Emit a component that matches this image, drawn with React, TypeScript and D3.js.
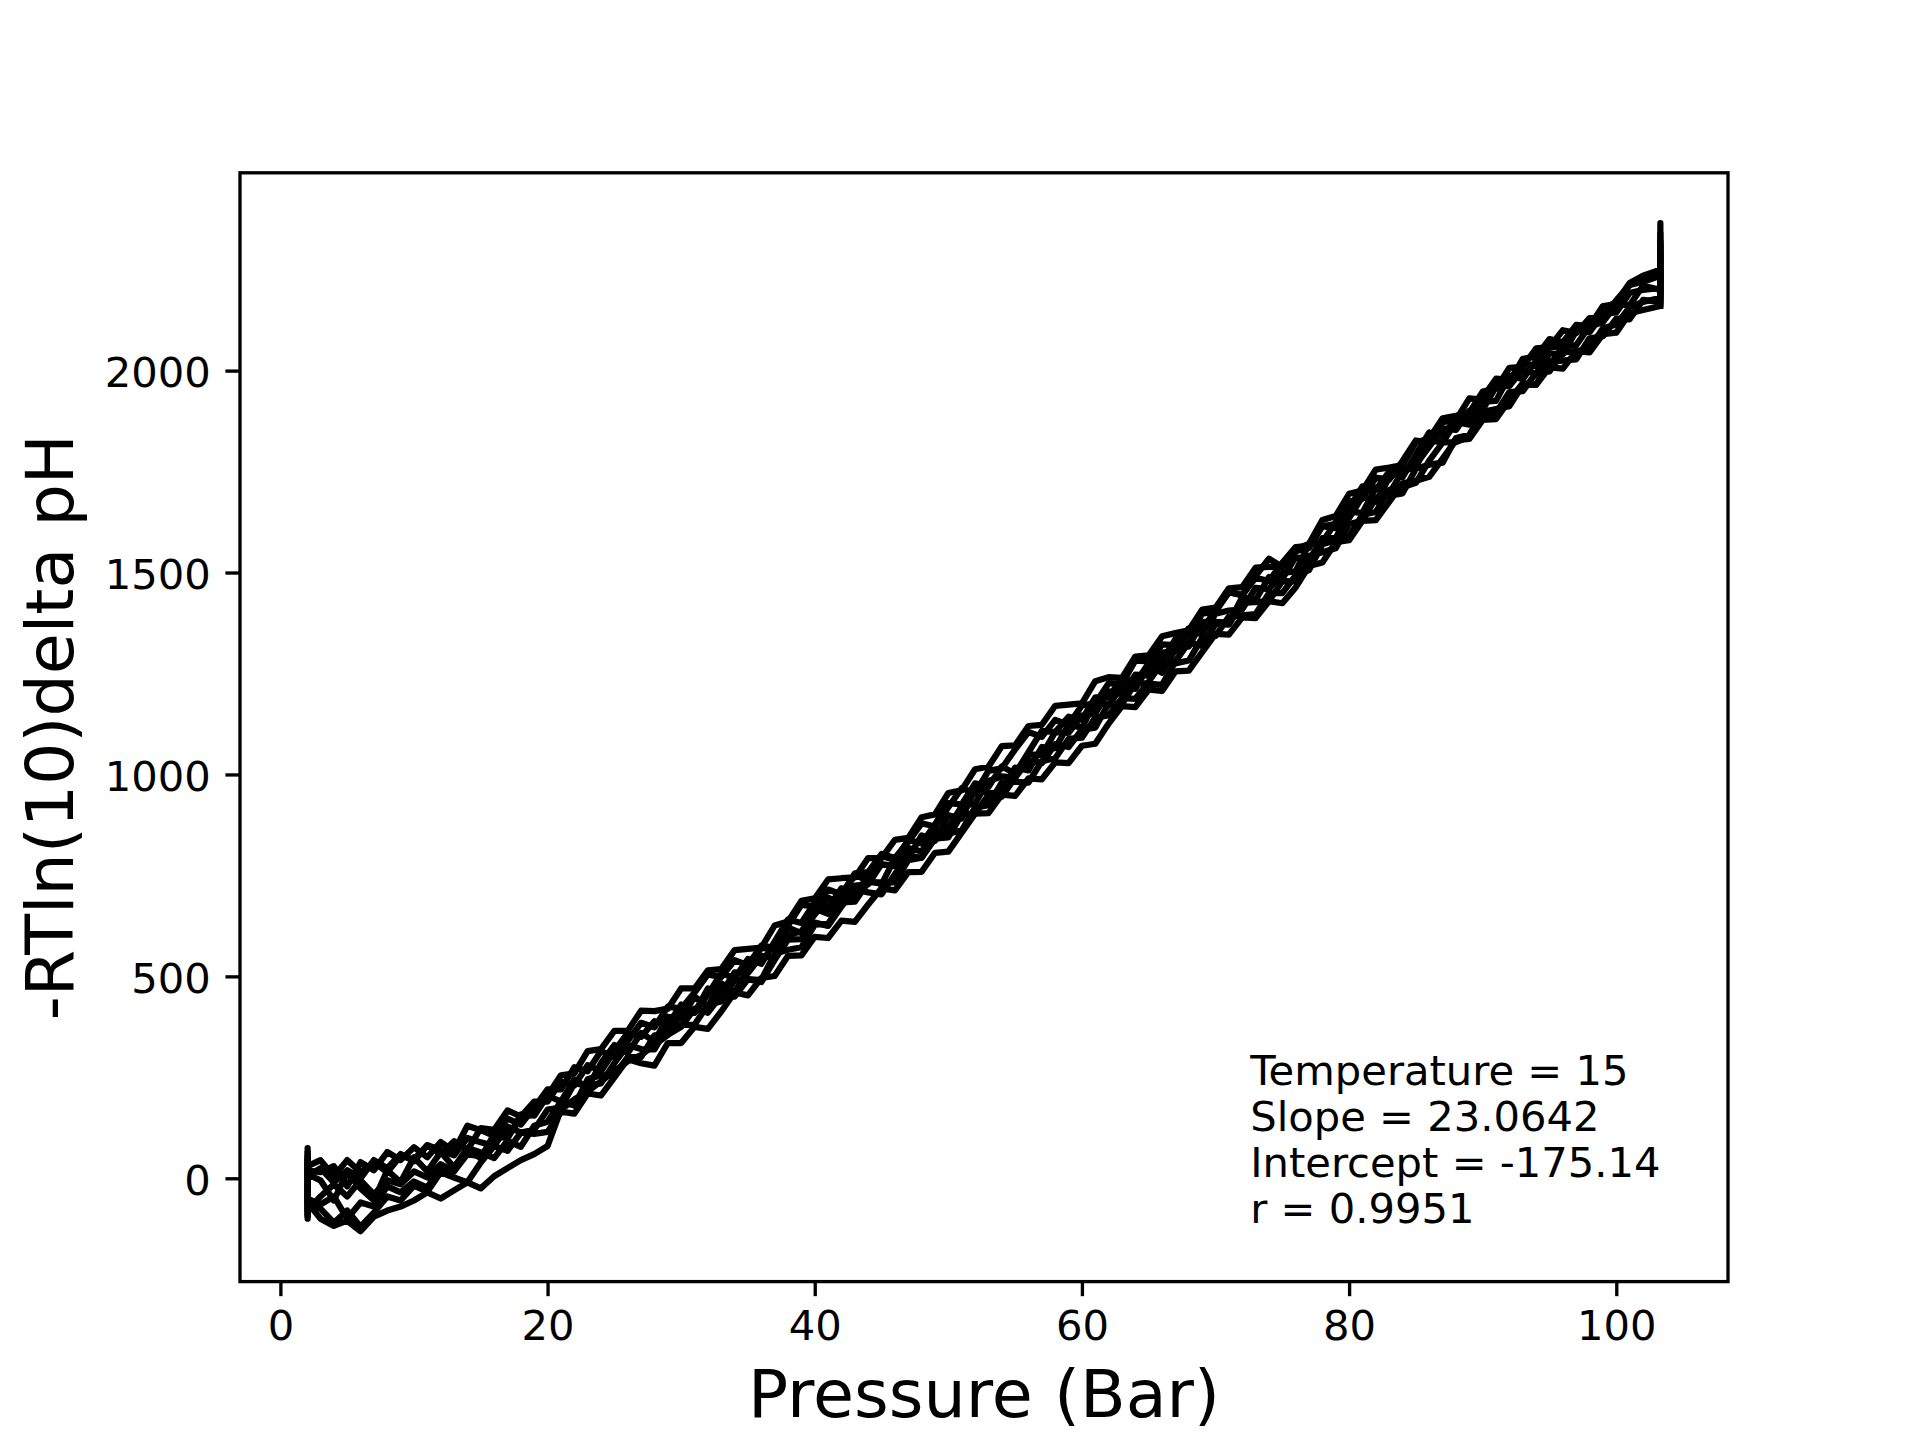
import React, { useEffect, useRef } from "react";
import * as d3 from "d3";

// pressure grid (Bar), shared by all runs: holds at start and end
const pressure = [
  2.04, 2.04, 2.04,
  3, 4, 5, 6, 7, 8, 9,
  10, 11, 12, 13, 14, 15, 16, 17, 18, 19,
  20, 21, 22, 23, 24, 25, 26, 27, 28, 29,
  30, 31, 32, 33, 34, 35, 36, 37, 38, 39,
  40, 41, 42, 43, 44, 45, 46, 47, 48, 49,
  50, 51, 52, 53, 54, 55, 56, 57, 58, 59,
  60, 61, 62, 63, 64, 65, 66, 67, 68, 69,
  70, 71, 72, 73, 74, 75, 76, 77, 78, 79,
  80, 81, 82, 83, 84, 85, 86, 87, 88, 89,
  90, 91, 92, 93, 94, 95, 96, 97, 98, 99,
  100, 101, 102,
  103.3, 103.3, 103.3,
];

// -RT ln(10) delta pH, one array per run
const runA = [
  0, 75, 30,
  45, 5, 45, 15, 40, 15, 55,
  47, 82, 60, 92, 70, 124, 120, 168, 153, 190,
  190, 240, 230, 280, 265, 315, 360, 350, 389, 380,
  430, 410, 455, 508, 495, 543, 531, 586, 641, 632,
  683, 670, 718, 695, 753, 798, 788, 838, 829, 876,
  929, 926, 978, 969, 1020, 1002, 1055, 1108, 1105, 1143,
  1136, 1191, 1191, 1239, 1227, 1275, 1322, 1320, 1362, 1358,
  1408, 1451, 1444, 1487, 1479, 1524, 1563, 1566, 1615, 1610,
  1660, 1713, 1705, 1750, 1736, 1792, 1847, 1837, 1883, 1881,
  1933, 1980, 1977, 2019, 2010, 2058, 2100, 2093, 2130, 2130,
  2174, 2212, 2230,
  2240, 2365, 2270,
];
const runB = [
  -90, -30, -70,
  -75, -110, -80, -120, -85, -45, -55,
  -18, -33, 15, 2, -10, 39, 80, 68, 113, 120,
  170, 175, 235, 230, 235, 285, 330, 320, 319, 375,
  380, 380, 430, 438, 490, 493, 491, 556, 566, 572,
  628, 630, 683, 685, 733, 733, 733, 788, 794, 846,
  854, 861, 918, 924, 980, 982, 980, 1033, 1040, 1088,
  1091, 1141, 1146, 1189, 1187, 1230, 1277, 1275, 1282, 1338,
  1343, 1391, 1394, 1397, 1449, 1449, 1493, 1506, 1570, 1580,
  1590, 1643, 1650, 1705, 1711, 1722, 1777, 1822, 1823, 1836,
  1888, 1895, 1947, 1949, 1995, 1998, 2045, 2048, 2055, 2105,
  2114, 2157, 2170,
  2180, 2230, 2160,
];
const runC = [
  40, -50, 10,
  -5, -55, 15, -25, -55, 20, -10,
  52, 17, 65, 27, 75, 49, 110, 98, 158, 155,
  205, 190, 245, 225, 285, 330, 310, 360, 339, 400,
  395, 450, 425, 483, 460, 518, 571, 566, 621, 607,
  668, 655, 703, 750, 738, 728, 793, 793, 849, 836,
  899, 891, 963, 954, 955, 1017, 1010, 1068, 1065, 1123,
  1116, 1181, 1171, 1219, 1212, 1270, 1252, 1310, 1317, 1378,
  1378, 1376, 1439, 1432, 1489, 1484, 1538, 1531, 1585, 1585,
  1650, 1648, 1710, 1695, 1751, 1762, 1827, 1822, 1873, 1866,
  1923, 1925, 1987, 1979, 2025, 2013, 2060, 2063, 2110, 2120,
  2164, 2162, 2210,
  2200, 2320, 2185,
];
const runD = [
  -40, -100, -60,
  -100, -118, -105, -131, -95, -80, -70,
  -55, -35, -50, -30, -10, -25, 5, 25, 45, 60,
  80, 170, 195, 215, 240, 265, 290, 305, 330, 355,
  375, 420, 410, 453, 450, 493, 486, 541, 591, 592,
  633, 625, 673, 715, 708, 703, 753, 798, 794, 841,
  844, 901, 903, 949, 945, 992, 1035, 1028, 1075, 1068,
  1111, 1116, 1176, 1174, 1227, 1225, 1222, 1280, 1327, 1318,
  1373, 1371, 1424, 1427, 1429, 1479, 1478, 1541, 1550, 1560,
  1620, 1628, 1685, 1690, 1696, 1757, 1767, 1772, 1833, 1841,
  1898, 1905, 1912, 1964, 1965, 2023, 2025, 2028, 2080, 2085,
  2129, 2127, 2175,
  2170, 2210, 2240,
];
const runE = [
  60, -20, 20,
  15, 30, -20, 40, 20, 65, 45,
  77, 52, 90, 67, 130, 119, 105, 148, 133, 175,
  220, 220, 275, 265, 315, 300, 340, 385, 374, 425,
  420, 460, 505, 498, 540, 528, 576, 571, 626, 677,
  673, 715, 703, 755, 758, 803, 793, 833, 879, 871,
  919, 966, 953, 1009, 1015, 1062, 1105, 1093, 1135, 1123,
  1171, 1176, 1226, 1224, 1282, 1280, 1282, 1335, 1342, 1398,
  1403, 1451, 1444, 1492, 1534, 1514, 1553, 1561, 1615, 1620,
  1675, 1683, 1735, 1730, 1776, 1827, 1822, 1872, 1878, 1931,
  1928, 1975, 1972, 2029, 2035, 2078, 2070, 2113, 2110, 2155,
  2169, 2217, 2235,
  2250, 2340, 2225,
];
const runF = [
  -20, 45, -80,
  -45, -15, -45, -5, -40, -5, -15,
  17, 2, 35, 17, 75, 64, 50, 93, 78, 130,
  140, 190, 180, 245, 255, 255, 300, 300, 354, 355,
  410, 410, 470, 458, 510, 508, 551, 546, 601, 612,
  653, 695, 678, 725, 728, 778, 773, 818, 809, 861,
  869, 921, 928, 984, 995, 992, 1050, 1048, 1105, 1103,
  1146, 1151, 1206, 1199, 1247, 1245, 1302, 1305, 1352, 1348,
  1398, 1406, 1409, 1462, 1459, 1499, 1503, 1571, 1575, 1625,
  1635, 1688, 1675, 1735, 1756, 1767, 1812, 1857, 1853, 1901,
  1903, 1960, 1962, 2004, 1990, 2043, 2040, 2098, 2095, 2140,
  2144, 2192, 2200,
  2205, 2290, 2195,
];
const runG = [
  -85, 20, -50,
  -65, -45, -100, -60, -70, -20, -35,
  -8, -23, 30, 17, 60, 54, 100, 103, 148, 160,
  205, 255, 260, 315, 320, 365, 365, 415, 414, 420,
  470, 470, 515, 518, 565, 568, 571, 626, 636, 687,
  693, 740, 743, 745, 793, 793, 838, 843, 894, 901,
  954, 961, 1013, 1019, 1070, 1072, 1120, 1123, 1170, 1173,
  1176, 1231, 1241, 1239, 1292, 1295, 1342, 1350, 1357, 1408,
  1413, 1461, 1464, 1512, 1514, 1514, 1558, 1571, 1630, 1640,
  1695, 1703, 1755, 1760, 1766, 1822, 1832, 1882, 1888, 1896,
  1948, 1955, 2007, 2009, 2055, 2058, 2060, 2108, 2110, 2160,
  2164, 2212, 2220,
  2235, 2310, 2255,
];
const runH = [
  50, -60, 5,
  25, -10, 20, 0, 45, 25, 60,
  42, 82, 70, 57, 100, 89, 80, 128, 113, 110,
  115, 165, 160, 210, 205, 250, 295, 285, 279, 335,
  335, 375, 370, 413, 460, 453, 496, 501, 551, 552,
  598, 595, 638, 635, 678, 718, 713, 758, 759, 806,
  809, 856, 903, 904, 950, 947, 990, 988, 1030, 1028,
  1071, 1076, 1126, 1169, 1167, 1210, 1207, 1255, 1257, 1303,
  1348, 1346, 1389, 1387, 1429, 1424, 1463, 1516, 1525, 1575,
  1580, 1628, 1630, 1675, 1721, 1727, 1737, 1782, 1828, 1831,
  1878, 1880, 1927, 1969, 1965, 2008, 2005, 2048, 2045, 2090,
  2094, 2142, 2150,
  2160, 2250, 2175,
];

const runs = [runA, runB, runC, runD, runE, runF, runG, runH];

const xTicks = [0, 20, 40, 60, 80, 100];
const yTicks = [0, 500, 1000, 1500, 2000];

const fitLines = [
  "Temperature = 15",
  "Slope = 23.0642",
  "Intercept = -175.14",
  "r = 0.9951",
];

const W = 1920;
const H = 1440;
const FONT = "DejaVu Sans, Liberation Sans, sans-serif";

const App: React.FC = () => {
  const svgRef = useRef<SVGSVGElement>(null);

  useEffect(() => {
    if (!svgRef.current) return;

    // matplotlib default subplot box for a 6.4x4.8in figure at 300 dpi
    const margin = { top: 172.8, right: 192, bottom: 158.4, left: 240 };
    const innerWidth = W - margin.left - margin.right;
    const innerHeight = H - margin.top - margin.bottom;

    const allY = runs.flat();
    const [x0, x1] = d3.extent(pressure) as [number, number];
    const [y0, y1] = d3.extent(allY) as [number, number];
    const xPad = (x1 - x0) * 0.05;
    const yPad = (y1 - y0) * 0.05;

    const xScale = d3
      .scaleLinear()
      .domain([x0 - xPad, x1 + xPad])
      .range([0, innerWidth]);

    const yScale = d3
      .scaleLinear()
      .domain([y0 - yPad, y1 + yPad])
      .range([innerHeight, 0]);

    const svg = d3.select(svgRef.current);
    svg.selectAll("*").remove();

    svg.append("rect").attr("width", W).attr("height", H).attr("fill", "#fff");

    const g = svg
      .append("g")
      .attr("transform", `translate(${margin.left},${margin.top})`);

    const clipId = "plot-clip";
    g.append("clipPath")
      .attr("id", clipId)
      .append("rect")
      .attr("width", innerWidth)
      .attr("height", innerHeight);

    // runs
    const lineGenerator = d3
      .line<number>()
      .x((_, i) => xScale(pressure[i]))
      .y(d => yScale(d));

    g.append("g")
      .attr("clip-path", `url(#${clipId})`)
      .selectAll("path")
      .data(runs)
      .join("path")
      .attr("fill", "none")
      .attr("stroke", "#000")
      .attr("stroke-width", 6.25)
      .attr("stroke-linejoin", "round")
      .attr("stroke-linecap", "square")
      .attr("d", d => lineGenerator(d));

    const tickLen = 14.58;
    const tickFont = 41.67;

    // X axis
    const xAxis = g
      .append("g")
      .attr("transform", `translate(0,${innerHeight})`)
      .call(
        d3
          .axisBottom(xScale)
          .tickValues(xTicks)
          .tickSize(tickLen)
          .tickPadding(tickLen)
          .tickFormat(d3.format("d"))
      );
    xAxis.select(".domain").remove();
    xAxis.selectAll("line").attr("stroke", "#000").attr("stroke-width", 3.33);
    xAxis
      .selectAll("text")
      .attr("fill", "#000")
      .attr("font-family", FONT)
      .style("font-size", `${tickFont}px`);

    // Y axis
    const yAxis = g
      .append("g")
      .call(
        d3
          .axisLeft(yScale)
          .tickValues(yTicks)
          .tickSize(tickLen)
          .tickPadding(tickLen)
          .tickFormat(d3.format("d"))
      );
    yAxis.select(".domain").remove();
    yAxis.selectAll("line").attr("stroke", "#000").attr("stroke-width", 3.33);
    yAxis
      .selectAll("text")
      .attr("fill", "#000")
      .attr("dy", "0.38em")
      .attr("font-family", FONT)
      .style("font-size", `${tickFont}px`);

    // frame
    g.append("rect")
      .attr("width", innerWidth)
      .attr("height", innerHeight)
      .attr("fill", "none")
      .attr("stroke", "#000")
      .attr("stroke-width", 3.33);

    // axis labels
    svg.append("text")
      .attr("x", margin.left + innerWidth / 2)
      .attr("y", 1417)
      .attr("text-anchor", "middle")
      .attr("font-family", FONT)
      .style("font-size", "66.67px")
      .attr("fill", "#000")
      .text("Pressure (Bar)");

    svg.append("text")
      .attr("transform", `translate(73,${margin.top + innerHeight / 2}) rotate(-90)`)
      .attr("text-anchor", "middle")
      .attr("font-family", FONT)
      .style("font-size", "66.67px")
      .attr("fill", "#000")
      .text("-RTln(10)delta pH");

    // fit summary
    const note = g
      .append("text")
      .attr("x", xScale(72.6))
      .attr("y", 1085 - margin.top)
      .attr("font-family", FONT)
      .style("font-size", "41.67px")
      .attr("fill", "#000");
    note
      .selectAll("tspan")
      .data(fitLines)
      .join("tspan")
      .attr("x", xScale(72.6))
      .attr("dy", (_, i) => (i === 0 ? 0 : 46))
      .text(d => d);
  }, []);

  return (
    <svg
      ref={svgRef}
      width={W}
      height={H}
      style={{ position: "absolute", left: 0, top: 0, display: "block" }}
    />
  );
};

export default App;
